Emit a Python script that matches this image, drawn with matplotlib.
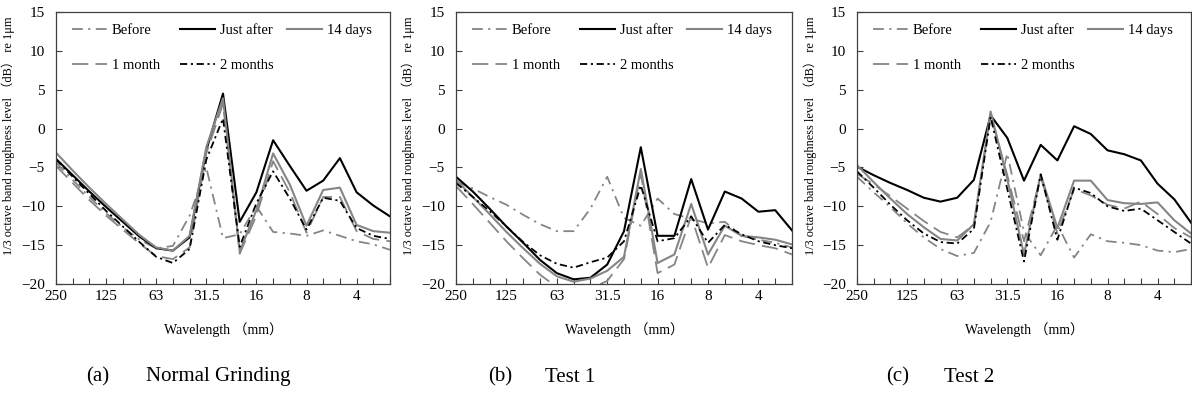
import numpy as np
import matplotlib
matplotlib.use('Agg')
import matplotlib.pyplot as plt
from matplotlib.ticker import FixedLocator
from matplotlib.legend import Legend

plt.rcParams['font.family'] = ['Liberation Serif', 'Noto Sans CJK JP', 'DejaVu Sans']

# 1/3 octave band centre wavelengths (mm)
bands = ['250', '200', '160', '125', '100', '80', '63', '50', '40', '31.5',
         '25', '20', '16', '12.5', '10', '8', '6.3', '5', '4', '3.15', '2.5']
series_names = ['Before', 'Just after', '14 days', '1 month', '2 months']

# (a) Normal Grinding
a_before = [-4.4, -6.6, -8.8, -10.9, -12.7, -14.3, -15.4, -15.1, -11.2, -5.0, -14.1,
            -13.6, -10.0, -13.3, -13.5, -13.8, -13.1, -13.8, -14.5, -14.9, -15.6]
a_just = [-3.9, -6.0, -8.1, -10.1, -12.0, -13.9, -15.4, -15.7, -14.0, -2.8, 4.5,
          -12.0, -8.2, -1.5, -4.8, -8.0, -6.7, -3.8, -8.2, -9.9, -11.3]
a_14d = [-3.1, -5.4, -7.6, -9.7, -11.7, -13.7, -15.3, -15.7, -13.8, -2.4, 3.9,
         -15.8, -10.5, -3.2, -7.2, -12.5, -7.9, -7.6, -12.4, -13.2, -13.4]
a_1m = [-4.8, -7.0, -9.2, -11.2, -13.0, -14.8, -16.4, -16.8, -15.3, -3.2, 3.2,
        -16.1, -11.2, -4.2, -8.2, -13.4, -8.8, -8.8, -13.2, -14.2, -14.5]
a_2m = [-4.0, -6.2, -8.4, -10.6, -12.6, -14.6, -16.5, -17.3, -15.5, -4.0, 1.3,
        -15.2, -9.6, -5.5, -9.0, -13.0, -8.9, -9.3, -12.8, -13.8, -14.2]

# (b) Test 1
b_before = [-6.8, -7.7, -8.8, -9.8, -11.1, -12.3, -13.2, -13.2, -10.3, -6.2, -11.5,
            -12.5, -9.0, -11.0, -11.6, -12.2, -12.0, -13.8, -14.3, -14.7, -15.3]
b_just = [-6.2, -8.1, -10.3, -12.6, -14.7, -16.9, -18.6, -19.4, -19.2, -17.5, -13.2,
          -2.4, -13.8, -13.8, -6.5, -13.0, -8.1, -9.0, -10.7, -10.5, -13.1]
b_14d = [-6.6, -8.8, -11.0, -13.3, -15.4, -17.4, -19.0, -19.7, -19.3, -18.3, -16.5,
         -5.2, -17.3, -16.2, -9.7, -16.2, -12.5, -13.8, -14.0, -14.3, -14.9]
b_1m = [-7.4, -9.7, -12.1, -14.5, -16.7, -18.8, -20.4, -20.8, -20.6, -19.6, -16.8,
        -5.8, -18.6, -17.5, -11.3, -17.9, -13.7, -14.5, -15.0, -15.4, -16.2]
b_2m = [-7.0, -8.8, -10.6, -12.6, -14.6, -16.3, -17.4, -17.9, -17.2, -16.6, -14.5,
        -7.3, -14.5, -14.1, -11.3, -14.7, -12.4, -13.6, -14.5, -15.0, -15.4]

# (c) Test 2
c_before = [-6.2, -8.2, -10.1, -12.2, -14.0, -15.5, -16.4, -16.0, -12.0, -3.2, -13.3,
            -16.3, -12.4, -16.6, -13.6, -14.5, -14.7, -15.0, -15.7, -15.9, -15.5]
c_just = [-4.9, -6.0, -7.0, -7.9, -8.9, -9.4, -8.9, -6.6, 1.7, -1.2, -6.7,
          -2.1, -4.1, 0.3, -0.7, -2.8, -3.3, -4.1, -7.1, -9.1, -12.1]
c_14d = [-4.7, -6.9, -9.0, -11.0, -12.7, -14.2, -14.4, -12.3, 2.2, -6.5, -16.2,
         -5.9, -12.8, -6.7, -6.7, -9.2, -9.6, -9.7, -9.5, -11.8, -13.5]
c_1m = [-5.8, -7.2, -8.7, -10.3, -11.9, -13.3, -14.0, -12.4, 1.8, -6.0, -14.5,
        -6.2, -13.5, -7.8, -8.6, -9.8, -10.3, -9.4, -11.0, -12.8, -14.0]
c_2m = [-5.5, -7.6, -9.8, -11.8, -13.5, -14.6, -14.8, -12.9, 1.5, -7.8, -17.1,
        -5.9, -14.3, -7.6, -8.3, -10.0, -10.6, -10.3, -11.8, -13.3, -14.8]

panels = [
    ('(a)', 'Normal Grinding', [a_before, a_just, a_14d, a_1m, a_2m]),
    ('(b)', 'Test 1', [b_before, b_just, b_14d, b_1m, b_2m]),
    ('(c)', 'Test 2', [c_before, c_just, c_14d, c_1m, c_2m]),
]

gray = '#858585'
styles = [
    dict(color=gray, lw=1.3, dashes=(6, 3, 1.2, 3)),
    dict(color='black', lw=1.5, linestyle='-'),
    dict(color=gray, lw=1.5, linestyle='-'),
    dict(color=gray, lw=1.3, dashes=(9, 4)),
    dict(color='black', lw=1.3, dashes=(4, 2, 1.2, 2)),
]

W, H = 1192, 403
fig = plt.figure(figsize=(W / 100, H / 100), dpi=100)

# axes boxes in pixels: left, right
boxes = [(56, 390), (456, 792), (857, 1191)]
top, bottom = 12, 284
ylab_x = [15, 415, 817]
cap_x = [(86, 146), (488, 545), (886, 944)]
# legend column offsets from the axes left edge (px)
leg_cols = [16, 124, 231]

x = np.arange(len(bands))
for k, (tag, name, data) in enumerate(panels):
    l, r = boxes[k]
    ax = fig.add_axes([l / W, 1 - bottom / H, (r - l) / W, (bottom - top) / H])
    lines = []
    for vals, st, nm in zip(data, styles, series_names):
        ln, = ax.plot(x, vals, label=nm, **st)
        lines.append(ln)

    ax.set_xlim(0, 20)
    ax.set_ylim(-20, 15)
    ax.set_yticks(np.arange(-20, 16, 5))
    ax.xaxis.set_major_locator(FixedLocator(list(range(0, 21, 3))))
    ax.set_xticklabels([bands[i] for i in range(0, 21, 3)])
    ax.xaxis.set_minor_locator(FixedLocator(list(range(21))))
    ax.tick_params(axis='both', which='both', direction='in', length=4,
                   width=0.8, color='#404040', labelsize=11)
    ax.tick_params(axis='x', which='both', top=False, pad=4)
    ax.tick_params(axis='y', which='both', right=False, pad=8)
    for sp in ax.spines.values():
        sp.set_color('#404040')
        sp.set_linewidth(0.9)

    ax.set_ylabel('1/3 octave band roughness level （dB） re 1μm', fontsize=8.8)
    ax.yaxis.set_label_coords((ylab_x[k] - l) / (r - l), (bottom - 136) / (bottom - top))
    ax.set_xlabel('Wavelength （mm）', fontsize=10)
    ax.xaxis.set_label_coords(0.5, (bottom - 322) / (bottom - top))

    # legend, one block per column like the Excel layout
    groups = [[0, 3], [1, 4], [2]]
    for grp, off in zip(groups, leg_cols):
        leg = Legend(ax, [lines[i] for i in grp], [series_names[i] for i in grp],
                     loc='upper left',
                     bbox_to_anchor=(off / (r - l), (bottom - 24) / (bottom - top)),
                     frameon=False, fontsize=10.5, handlelength=2.4, handletextpad=0.35,
                     labelspacing=1.5, borderpad=0, borderaxespad=0)
        ax.add_artist(leg)

    fig.text(cap_x[k][0] / W, 1 - 377 / H, tag, fontsize=15, va='center')
    fig.text(cap_x[k][1] / W, 1 - 377 / H, name, fontsize=15, va='center')

fig.savefig('out.png', dpi=100)
